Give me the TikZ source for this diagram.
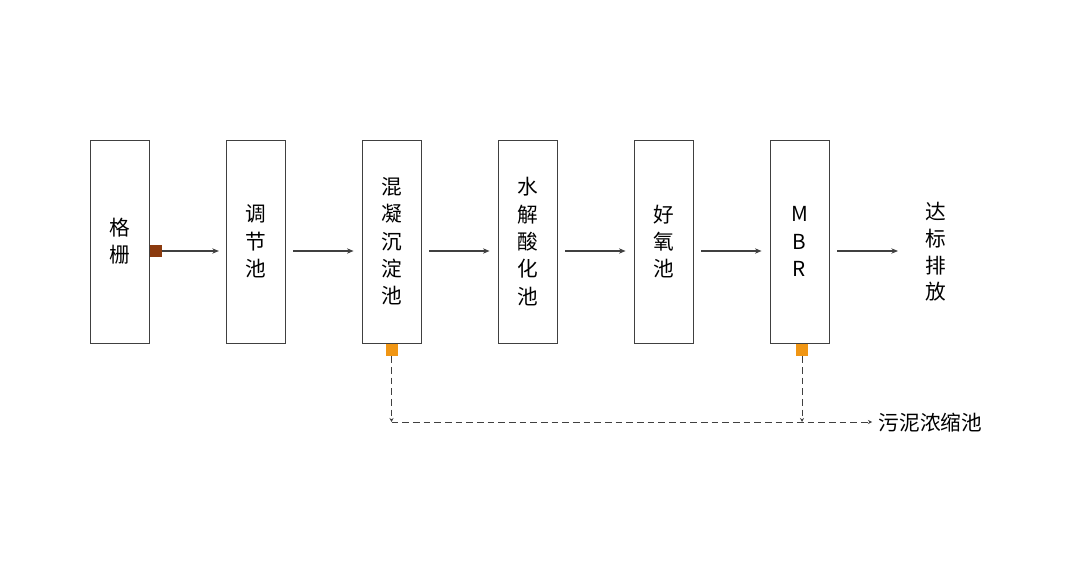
\documentclass[tikz,border=0pt]{standalone}
\usepackage{fontspec}
\setmainfont{Noto Sans CJK SC}
\usetikzlibrary{arrows.meta}
\begin{document}
\begin{tikzpicture}[x=0.75pt,y=-0.75pt,
 box/.style={draw=black!75,line width=0.6pt,minimum width=44.25pt,minimum height=152.25pt,inner sep=0pt,align=center,font=\fontsize{15.5}{20.5}\selectfont},
 arr/.style={draw=black!75,line width=0.9pt,shorten <=6pt,shorten >=6pt,-{Stealth[length=5pt,width=4pt]}},
 dsh/.style={draw=black!75,line width=0.7pt,dash pattern=on 5pt off 3pt},
 sq/.style={minimum size=9pt,inner sep=0pt}]
\useasboundingbox (0,0) rectangle (1080,577);
\node[box] (b1) at (119.5,241.5) {格\\栅};
\node[box] (b2) at (255.5,241.5) {调\\节\\池};
\node[box] (b3) at (391.5,241.5) {混\\凝\\沉\\淀\\池};
\node[box] (b4) at (527.5,241.5) {水\\解\\酸\\化\\池};
\node[box] (b5) at (663.5,241.5) {好\\氧\\池};
\node[box] (b6) at (799.5,241.5) {M\\B\\R};
\node[align=center,font=\fontsize{15.5}{20}\selectfont] (out) at (936,252) {达\\标\\排\\放};
\node[sq,fill={rgb,255:red,139;green,58;blue,14}] (s1) at (155.5,251) {};
\node[sq,fill={rgb,255:red,240;green,150;blue,20}] (s2) at (391.5,350) {};
\node[sq,fill={rgb,255:red,240;green,150;blue,20}] (s3) at (802,350) {};
\node[anchor=west,font=\fontsize{15.5}{20}\selectfont] (sl) at (874,423) {污泥浓缩池};
\coordinate (c1) at (391.5,422);
\coordinate (c2) at (802,422);
\coordinate (c3) at (872,422);
\coordinate (e) at (906,251);
\draw[arr,shorten <=0pt,shorten >=5pt] (s1.east) -- (b2.west |- s1.east);
\draw[arr] (b2.east |- 0,251) -- (b3.west |- 0,251);
\draw[arr] (b3.east |- 0,251) -- (b4.west |- 0,251);
\draw[arr] (b4.east |- 0,251) -- (b5.west |- 0,251);
\draw[arr] (b5.east |- 0,251) -- (b6.west |- 0,251);
\draw[arr] (b6.east |- 0,251) -- (e);
\draw[dsh,-{Stealth[length=3pt,width=3pt]}] (s2.south) -- (c1);
\draw[dsh,-{Stealth[length=3pt,width=3pt]}] (s3.south) -- (c2);
\draw[dsh,-{Stealth[length=3pt,width=3pt]}] (c1) -- (c3);
\end{tikzpicture}
\end{document}
